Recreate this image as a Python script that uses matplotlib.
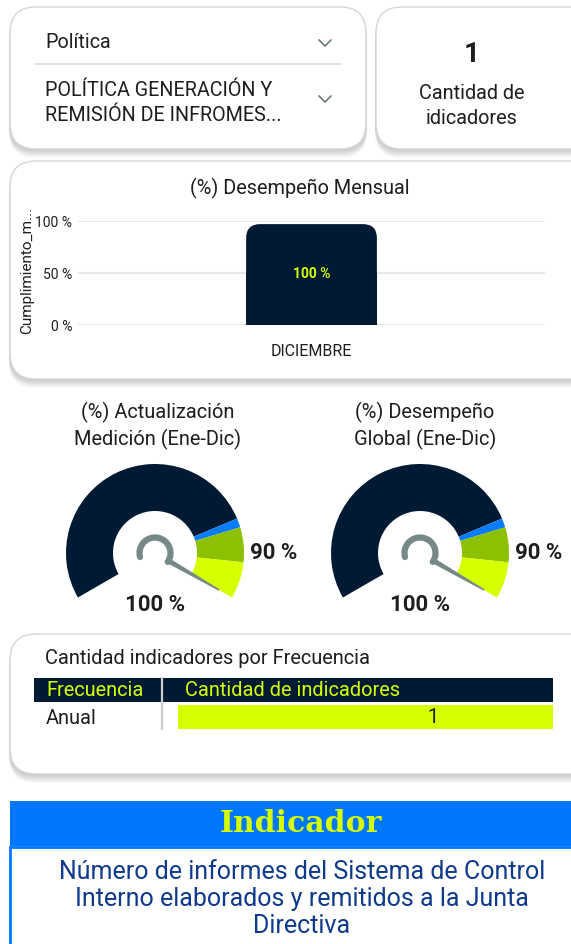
import numpy as np
import matplotlib.pyplot as plt
from matplotlib.patches import FancyBboxPatch, Wedge, Rectangle, Arc, Polygon

plt.rcParams['font.family'] = ['Roboto', 'DejaVu Sans']

NAVY = "#011A33"
LIME = "#D6FF00"
OLIVE = "#8CC000"
BLUE = "#0A7CFF"
HEAD_BLUE = "#0077FF"
NEEDLE = "#778987"
TXT = "#1E1E1E"
DARKBLUE = "#0E3A8C"

# data
slicer_items = ["Política", "POLÍTICA GENERACIÓN Y\nREMISIÓN DE INFROMES..."]
kpi_value = 1
kpi_label = "Cantidad de\nidicadores"

months = ["DICIEMBRE"]
monthly_perf = [1.00]

gauge_titles = ["(%) Actualización\nMedición (Ene-Dic)", "(%) Desempeño\nGlobal (Ene-Dic)"]
gauge_values = [1.00, 1.00]
gauge_target = 0.90
band_edges = [0.0, 0.78, 0.805, 0.90, 1.0]
band_colors = [NAVY, BLUE, OLIVE, LIME]

freq_names = ["Anual"]
freq_counts = [1]

indicator_text = ("Número de informes del Sistema de Control\n"
                  "Interno elaborados y remitidos a la Junta\nDirectiva")

W, H = 571, 945
fig = plt.figure(figsize=(W / 100, H / 100), dpi=100)
fig.patch.set_facecolor("white")

bg = fig.add_axes([0, 0, 1, 1], zorder=0)
bg.set_xlim(0, W)
bg.set_ylim(H, 0)
bg.axis("off")


def card(x0, y0, x1, y1, r=26):
    # soft shadow under the card
    for i in range(8):
        bg.add_patch(FancyBboxPatch((x0 - 1, y0 + 2 + i), x1 - x0 + 2, y1 - y0,
                                    boxstyle=f"round,pad=0,rounding_size={r}",
                                    fc="#000000", ec="none", alpha=0.022))
    bg.add_patch(FancyBboxPatch((x0, y0), x1 - x0, y1 - y0,
                                boxstyle=f"round,pad=0,rounding_size={r}",
                                fc="white", ec="#D6D6D6", lw=1))


def px_axes(x0, y0, x1, y1, **kw):
    return fig.add_axes([x0 / W, 1 - y1 / H, (x1 - x0) / W, (y1 - y0) / H], **kw)


def chevron(x, y):
    bg.plot([x - 6, x, x + 6], [y - 3, y + 3, y - 3], color="#6F827E", lw=1.3,
            solid_capstyle="round", solid_joinstyle="round")


# top slicer card
card(10, 8, 366, 150)
bg.text(45, 43, slicer_items[0], fontsize=14.2, color=TXT, va="center")
chevron(325, 44)
bg.plot([36, 340], [65, 65], color="#E2E2E2", lw=1.5)
bg.text(45, 103, slicer_items[1], fontsize=14.2, color=TXT, va="center", linespacing=1.42)
chevron(325, 100)

# kpi card
card(376, 8, 600, 150)
bg.text(472, 55, str(kpi_value), fontsize=20, fontweight="bold", color=TXT, ha="center", va="center")
bg.text(472, 106, kpi_label, fontsize=14.3, color=TXT, ha="center", va="center", linespacing=1.4)

# monthly bar chart card
card(10, 162, 600, 380)
bg.text(300, 188, "(%) Desempeño Mensual", fontsize=14.3, color=TXT, ha="center", va="center")
bg.text(27, 270, "Cumplimiento_m...", fontsize=11, color=TXT, ha="center", va="center", rotation=90)

ax = px_axes(78, 222, 545, 326)
bars = ax.bar(months, monthly_perf, width=0.28, color=NAVY)
ax.set_xlim(-0.5, 0.5)
ax.set_ylim(0, 1)
ax.set_yticks([0, 0.5, 1.0])
ax.set_yticklabels(["0 %", "50 %", "100 %"])
ax.tick_params(length=0, labelsize=10, labelcolor=TXT)
ax.tick_params(axis="y", pad=4)
ax.tick_params(axis="x", pad=13, labelsize=11.5)
ax.grid(axis="y", color="#E8E8E8", lw=1.6)
ax.set_axisbelow(True)
for s in ax.spines.values():
    s.set_visible(False)
ax.patch.set_alpha(0)
aspect = (1 / 104) / (1 / 467)
for b, v in zip(bars, monthly_perf):
    b.set_visible(False)
    ax.add_patch(FancyBboxPatch((b.get_x(), 0), b.get_width(), b.get_height() * 0.97,
                                boxstyle="round,pad=0,rounding_size=0.03",
                                mutation_aspect=aspect, fc=NAVY, ec="none"))
    ax.add_patch(Rectangle((b.get_x(), 0), b.get_width(), b.get_height() * 0.5, fc=NAVY, ec="none"))
    ax.text(b.get_x() + b.get_width() / 2, v / 2, f"{v * 100:.0f} %", ha="center", va="center",
            fontsize=10, fontweight="bold", color=LIME)


# gauges
def theta(v):
    return 210 - 240 * v


gauge_centers = [(155, 554), (420, 554)]
title_x = [158, 425]
r_out, r_in = 89, 42
for k in range(2):
    cx, cy = gauge_centers[k]
    bg.text(title_x[k], 426, gauge_titles[k], fontsize=14.4, color=TXT, ha="center", va="center",
            linespacing=1.33)
    g = px_axes(cx - 100, cy - 100, cx + 100, cy + 100)
    g.set_xlim(-100, 100)
    g.set_ylim(-100, 100)
    g.axis("off")
    for v0, v1, c in zip(band_edges[:-1], band_edges[1:], band_colors):
        g.add_patch(Wedge((0, 0), r_out, theta(v1), theta(v0), width=r_out - r_in, fc=c, ec="none"))
    a = theta(gauge_values[k])
    ar = np.radians(a)
    g.add_patch(Arc((0, 0), 31, 31, theta1=a - 5, theta2=195, color=NEEDLE, lw=4.5, capstyle="round"))
    d = np.array([np.cos(ar), np.sin(ar)])
    n = np.array([-d[1], d[0]])
    base = d * 14
    tip = d * 74
    g.add_patch(Polygon([base + n * 2.7, tip + n * 0.8, tip - n * 0.8, base - n * 2.7],
                        closed=True, fc=NEEDLE, ec="none"))
    g.text(119, 1, f"{gauge_target * 100:.0f} %", fontsize=16, fontweight="bold", color=TXT,
           ha="center", va="center", clip_on=False)
    g.text(0, -51, f"{gauge_values[k] * 100:.0f} %", fontsize=16, fontweight="bold", color=TXT,
           ha="center", va="center", clip_on=False)

# frequency table card
card(10, 635, 600, 775)
bg.text(45, 658, "Cantidad indicadores por Frecuencia", fontsize=14.4, color=TXT, va="center")
bg.add_patch(Rectangle((34, 679), 553 - 34, 24, fc=NAVY, ec="none"))
bg.text(46, 691, "Frecuencia", fontsize=14.4, color=LIME, va="center")
bg.text(185, 691, "Cantidad de indicadores", fontsize=14.4, color=LIME, va="center")
bg.plot([162, 162], [679, 730], color="#C9CDD2", lw=1.6)
for i, name in enumerate(freq_names):
    bg.text(46, 718 + i * 26, name, fontsize=14.4, color=TXT, va="center")
t = px_axes(178, 706, 553, 730 + 26 * (len(freq_names) - 1))
t.barh(range(len(freq_counts)), freq_counts, height=1.0, color=LIME)
t.set_xlim(0, max(freq_counts))
t.set_ylim(len(freq_counts) - 0.5, -0.5)
t.axis("off")
for i, c in enumerate(freq_counts):
    t.text(0.68 * max(freq_counts), i, str(c), fontsize=14.4, color=TXT, ha="center", va="center")

# indicator header and text box
bg.add_patch(Rectangle((10, 802), W - 10, 45, fc=HEAD_BLUE, ec="none"))
bg.text(301, 824, "Indicador", fontsize=21.5, fontweight="bold", family="DejaVu Serif",
        color=LIME, ha="center", va="center")
bg.add_patch(Rectangle((10, 848), W, 120, fc="white", ec=HEAD_BLUE, lw=2))
bg.text(302, 899, indicator_text, fontsize=18, color=DARKBLUE, ha="center", va="center",
        linespacing=1.17)

fig.savefig("out.png", dpi=100)
